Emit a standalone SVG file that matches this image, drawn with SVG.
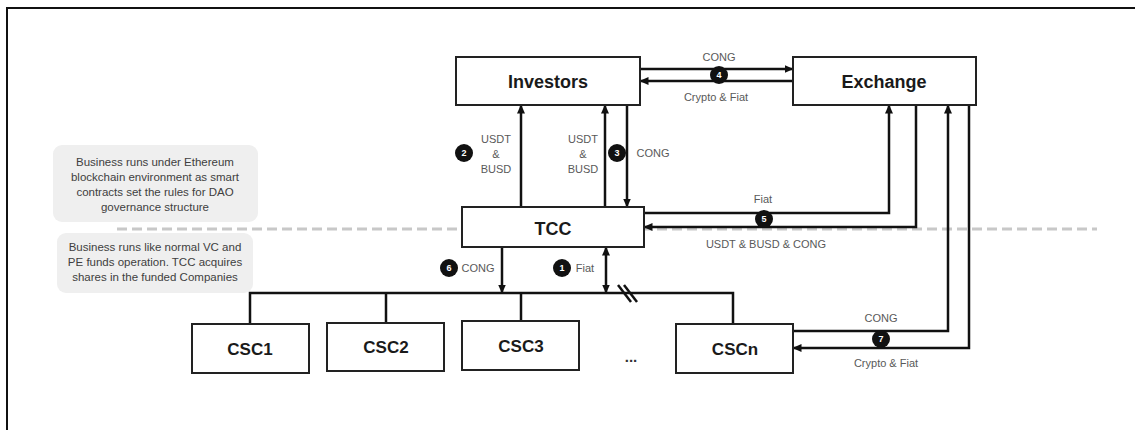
<svg xmlns="http://www.w3.org/2000/svg" width="1135" height="430" viewBox="0 0 1135 430">
<defs>
<marker id="ah" markerUnits="userSpaceOnUse" markerWidth="9" markerHeight="8" refX="8.5" refY="4" orient="auto-start-reverse" viewBox="0 0 9 8">
<path d="M0,0 L9,4 L0,8 z" fill="#111"/>
</marker>
<style>
.box{fill:#fff;stroke:#222;stroke-width:2}
.bt{font-family:"Liberation Sans",Arial,sans-serif;font-weight:bold;font-size:18px;fill:#1a1a1a;text-anchor:middle}
.st{font-family:"Liberation Sans",Arial,sans-serif;font-weight:bold;font-size:17px;fill:#1a1a1a;text-anchor:middle}
.ln{fill:none;stroke:#111;stroke-width:2.5}
.ar{marker-end:url(#ah)}
.lbl{font-family:"Liberation Sans",Arial,sans-serif;font-size:11px;fill:#595959;text-anchor:middle}
.note{fill:#efefef}
.nt{font-family:"Liberation Sans",Arial,sans-serif;font-size:11.5px;fill:#404040;text-anchor:middle}
.num{fill:#111}
.nn{font-family:"Liberation Sans",Arial,sans-serif;font-size:9px;font-weight:bold;fill:#fff;text-anchor:middle}
</style>
</defs>
<rect width="1135" height="430" fill="#fff"/>
<path d="M7,430 V8 H1135" fill="none" stroke="#111" stroke-width="2"/>

<g id="note-top">
<rect class="note" x="53" y="145" width="205" height="77" rx="9"/>
<text class="nt" x="155" y="166">Business runs under Ethereum</text>
<text class="nt" x="155" y="181">blockchain environment as smart</text>
<text class="nt" x="155" y="196">contracts set the rules for DAO</text>
<text class="nt" x="155" y="211">governance structure</text>
</g>
<g id="note-bottom">
<rect class="note" x="57" y="233" width="196" height="60" rx="9"/>
<text class="nt" x="155" y="251">Business runs like normal VC and</text>
<text class="nt" x="155" y="266">PE funds operation. TCC acquires</text>
<text class="nt" x="155" y="281">shares in the funded Companies</text>
</g>

<line id="divider" x1="117" y1="229" x2="1097" y2="229" stroke="#c8c8c8" stroke-width="3" stroke-dasharray="10,5"/>

<g id="connectors">
<path class="ln ar" d="M640,69 H793"/>
<path class="ln ar" d="M793,81 H640"/>
<path class="ln ar" d="M521,207 V105"/>
<path class="ln ar" d="M605,207 V105"/>
<path class="ln ar" d="M627,105 V207"/>
<path class="ln ar" d="M644,213 H889 V105"/>
<path class="ln ar" d="M916,105 V227 H644"/>
<path class="ln ar" d="M793,331 H948 V105"/>
<path class="ln ar" d="M969,105 V348 H793"/>
<path class="ln ar" d="M502,247 V293"/>
<path class="ln ar" d="M606,247 V293" marker-start="url(#ah)"/>
<path class="ln" d="M250,324 V293 H733 V324"/>
<path class="ln" d="M386,293 V323"/>
<path class="ln" d="M521,293 V321"/>
<line x1="618" y1="285" x2="631" y2="302" stroke="#111" stroke-width="2.5"/>
<line x1="624" y1="285" x2="637" y2="302" stroke="#111" stroke-width="2.5"/>
</g>

<g id="labels">
<text class="lbl" x="719" y="61">CONG</text>
<text class="lbl" x="716" y="101">Crypto &amp; Fiat</text>
<circle class="num" cx="719" cy="75" r="9"/><text class="nn" x="719" y="78">4</text>

<circle class="num" cx="464" cy="153" r="9"/><text class="nn" x="464" y="156">2</text>
<text class="lbl" x="496" y="143">USDT</text>
<text class="lbl" x="496" y="158">&amp;</text>
<text class="lbl" x="496" y="173">BUSD</text>
<text class="lbl" x="583" y="143">USDT</text>
<text class="lbl" x="583" y="158">&amp;</text>
<text class="lbl" x="583" y="173">BUSD</text>
<circle class="num" cx="617" cy="153" r="9"/><text class="nn" x="617" y="156">3</text>
<text class="lbl" x="653" y="157">CONG</text>

<text class="lbl" x="763" y="203">Fiat</text>
<circle class="num" cx="764" cy="219" r="9"/><text class="nn" x="764" y="222">5</text>
<text class="lbl" x="766" y="248">USDT &amp; BUSD &amp; CONG</text>

<circle class="num" cx="449" cy="268" r="9"/><text class="nn" x="449" y="271">6</text>
<text class="lbl" x="478" y="272">CONG</text>
<circle class="num" cx="562" cy="268" r="9"/><text class="nn" x="562" y="271">1</text>
<text class="lbl" x="585" y="272">Fiat</text>

<text class="lbl" x="881" y="322">CONG</text>
<circle class="num" cx="881" cy="339" r="9"/><text class="nn" x="881" y="342">7</text>
<text class="lbl" x="886" y="367">Crypto &amp; Fiat</text>
</g>

<g id="investors"><rect class="box" x="456" y="57" width="184" height="48"/><text class="bt" x="548" y="88">Investors</text></g>
<g id="exchange"><rect class="box" x="793" y="57" width="183" height="48"/><text class="bt" x="884" y="88">Exchange</text></g>
<g id="tcc"><rect class="box" x="462" y="207" width="182" height="40"/><text class="bt" x="553" y="235">TCC</text></g>
<g id="csc1"><rect class="box" x="192" y="324" width="117" height="49"/><text class="st" x="250" y="355">CSC1</text></g>
<g id="csc2"><rect class="box" x="327" y="323" width="117" height="48"/><text class="st" x="386" y="353">CSC2</text></g>
<g id="csc3"><rect class="box" x="462" y="321" width="117" height="49"/><text class="st" x="521" y="352">CSC3</text></g>
<g id="cscn"><rect class="box" x="676" y="324" width="117" height="49"/><text class="st" x="735" y="355">CSCn</text></g>
<text id="ellipsis" x="631" y="362" font-family="Liberation Sans,Arial,sans-serif" font-size="15" font-weight="bold" fill="#333" text-anchor="middle">...</text>
</svg>
